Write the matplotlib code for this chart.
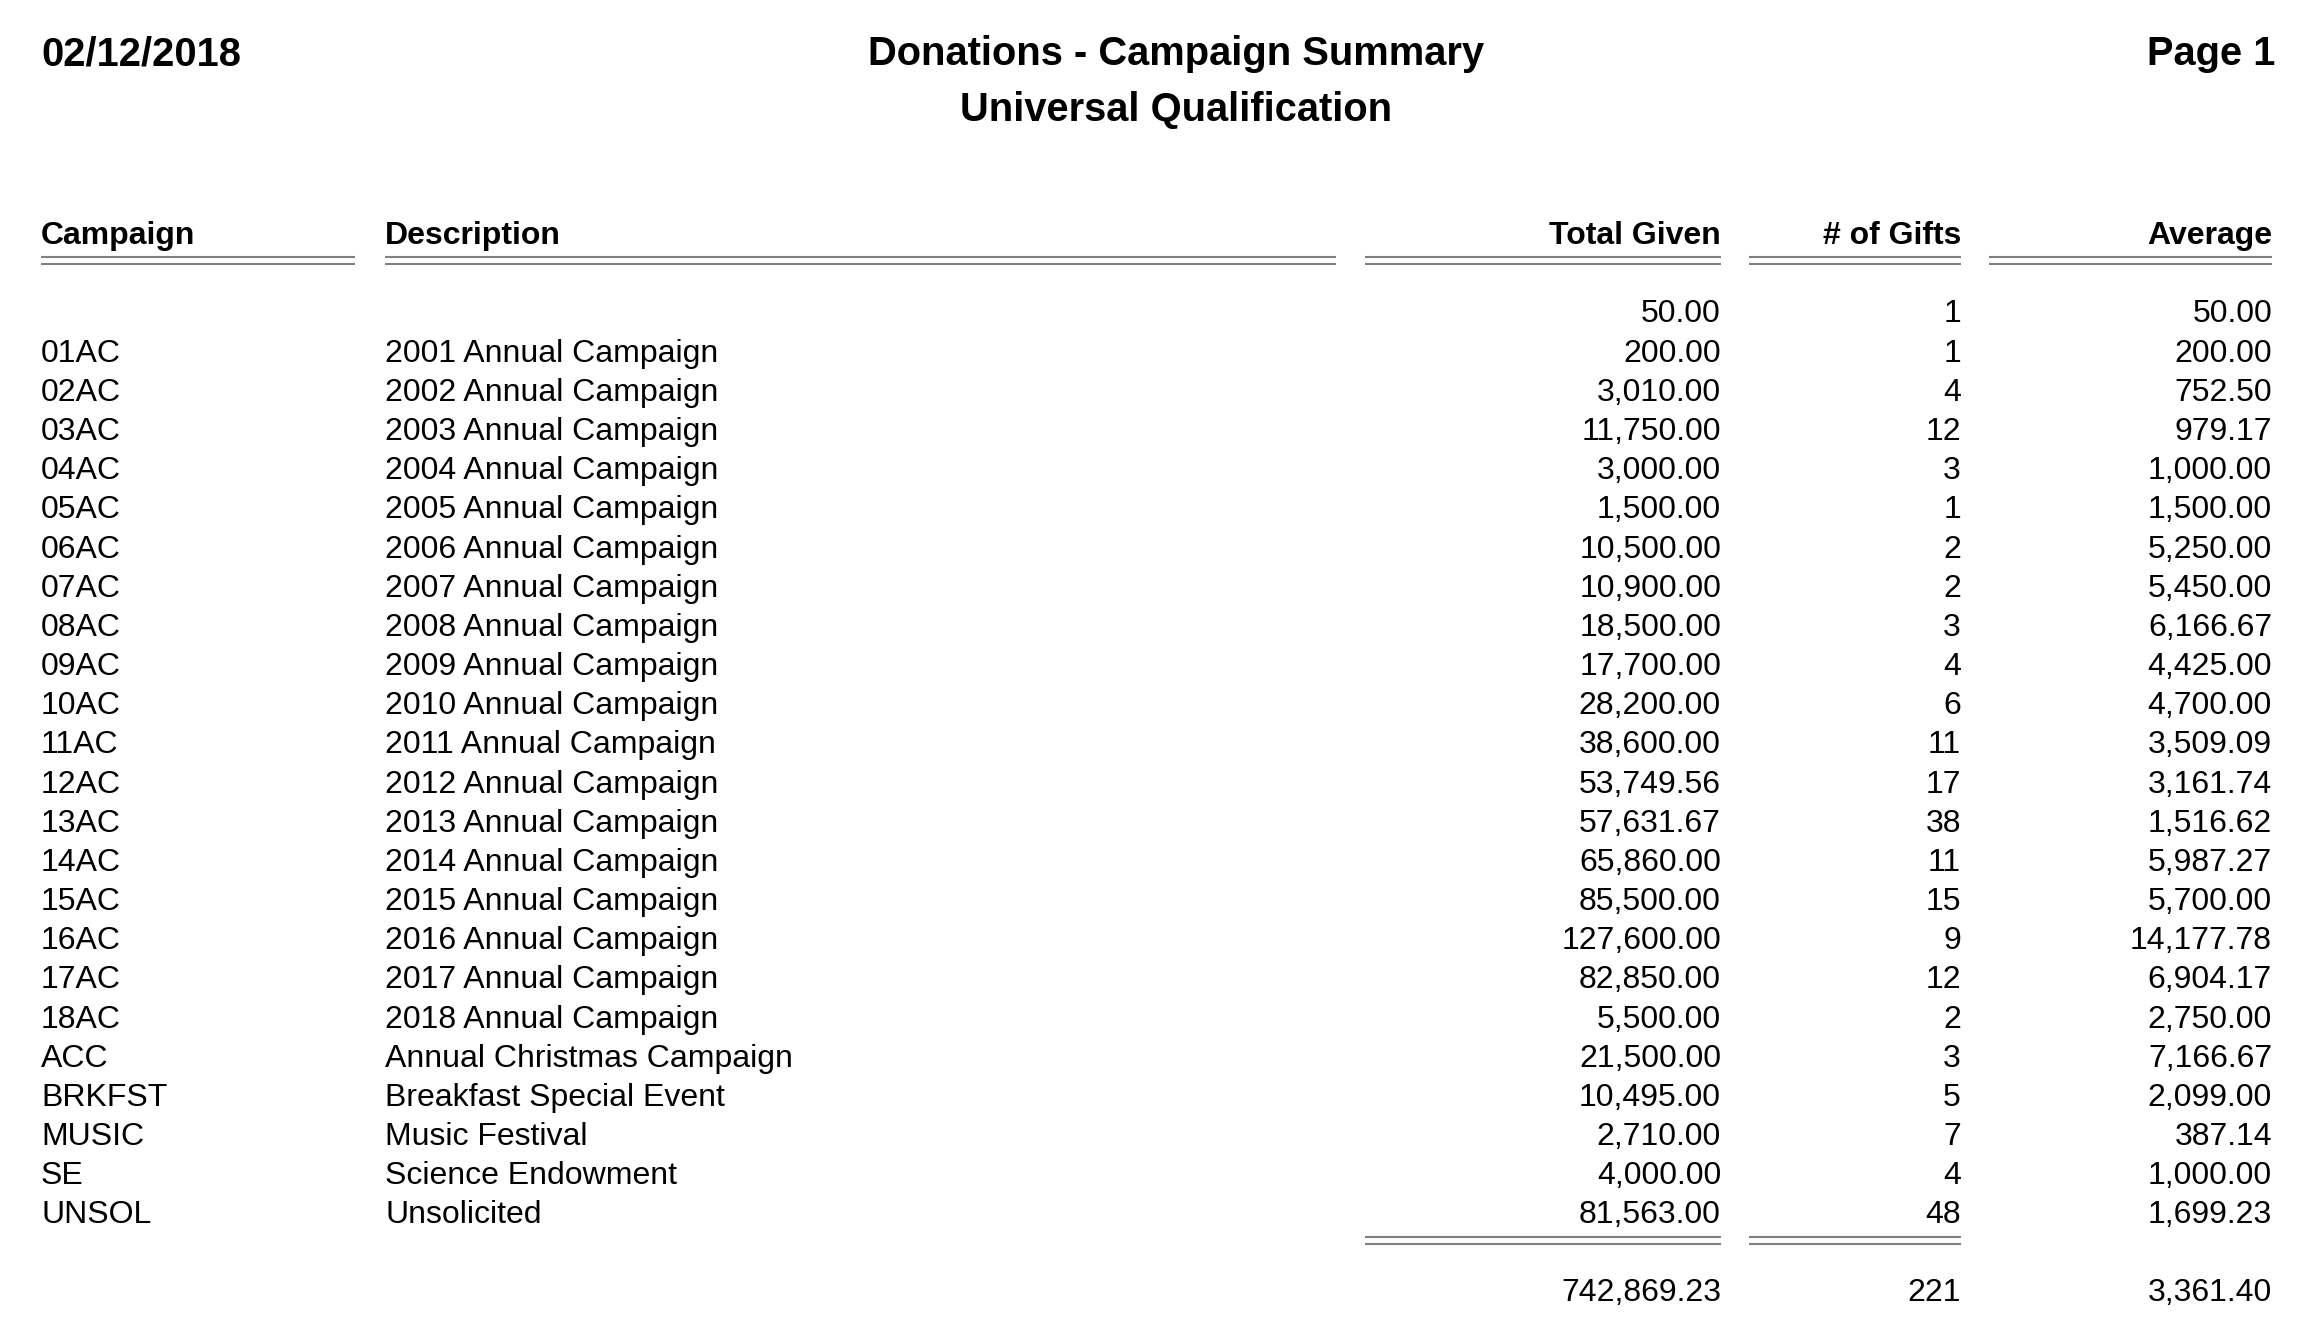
import matplotlib
matplotlib.use('Agg')
import matplotlib.pyplot as plt

plt.rcParams['font.family'] = ['Liberation Sans', 'DejaVu Sans']

# === 数据 ===
campaigns = ['', '01AC', '02AC', '03AC', '04AC', '05AC', '06AC', '07AC', '08AC', '09AC',
             '10AC', '11AC', '12AC', '13AC', '14AC', '15AC', '16AC', '17AC', '18AC',
             'ACC', 'BRKFST', 'MUSIC', 'SE', 'UNSOL']
descriptions = [''] + [f'{y} Annual Campaign' for y in range(2001, 2019)] + [
    'Annual Christmas Campaign', 'Breakfast Special Event', 'Music Festival',
    'Science Endowment', 'Unsolicited']
total_given = [50.00, 200.00, 3010.00, 11750.00, 3000.00, 1500.00, 10500.00, 10900.00,
               18500.00, 17700.00, 28200.00, 38600.00, 53749.56, 57631.67, 65860.00,
               85500.00, 127600.00, 82850.00, 5500.00, 21500.00, 10495.00, 2710.00,
               4000.00, 81563.00]
num_gifts = [1, 1, 4, 12, 3, 1, 2, 2, 3, 4, 6, 11, 17, 38, 11, 15, 9, 12, 2, 3, 5, 7, 4, 48]
averages = [50.00, 200.00, 752.50, 979.17, 1000.00, 1500.00, 5250.00, 5450.00, 6166.67,
            4425.00, 4700.00, 3509.09, 3161.74, 1516.62, 5987.27, 5700.00, 14177.78,
            6904.17, 2750.00, 7166.67, 2099.00, 387.14, 1000.00, 1699.23]
grand_total = 742869.23
grand_gifts = 221
grand_avg = 3361.40

headers = ['Campaign', 'Description', 'Total Given', '# of Gifts', 'Average']

# === 布局（像素坐标） ===
W, H = 2322, 1337
fig = plt.figure(figsize=(W / 100, H / 100), dpi=100)
ax = fig.add_axes([0, 0, 1, 1])
ax.set_xlim(0, W)
ax.set_ylim(H, 0)
ax.axis('off')

big = 28.7
fs = 23
line_color = '#808080'
lw = 1.5

# 页眉
ax.text(41, 65, '02/12/2018', fontsize=big, fontweight='bold', ha='left', va='baseline')
ax.text(1176, 65, 'Donations - Campaign Summary', fontsize=big, fontweight='bold',
        ha='center', va='baseline')
ax.text(1176, 121, 'Universal Qualification', fontsize=big, fontweight='bold',
        ha='center', va='baseline')
ax.text(2275, 65, 'Page 1', fontsize=big, fontweight='bold', ha='right', va='baseline')

# 列定义：(x位置, 对齐, 线段起止)
col_x = [41, 385, 1721, 1961, 2272]
col_ha = ['left', 'left', 'right', 'right', 'right']
col_span = [(41, 355), (385, 1336), (1365, 1721), (1749, 1961), (1989, 2272)]

for x, ha, h in zip(col_x, col_ha, headers):
    ax.text(x, 244, h, fontsize=fs, fontweight='bold', ha=ha, va='baseline')
for x0, x1 in col_span:
    for y in (257, 264):
        ax.plot([x0, x1], [y, y], color=line_color, lw=lw, solid_capstyle='butt')

# 数据行
y0, dy = 322.5, 39.17
for i in range(len(campaigns)):
    y = y0 + i * dy
    cells = [campaigns[i], descriptions[i], f'{total_given[i]:,.2f}',
             f'{num_gifts[i]}', f'{averages[i]:,.2f}']
    for x, ha, s in zip(col_x, col_ha, cells):
        ax.text(x, y, s, fontsize=fs, ha=ha, va='baseline')

# 合计线与合计
for x0, x1 in col_span[2:4]:
    for y in (1237, 1244):
        ax.plot([x0, x1], [y, y], color=line_color, lw=lw, solid_capstyle='butt')

for x, s in zip(col_x[2:], [f'{grand_total:,.2f}', f'{grand_gifts}', f'{grand_avg:,.2f}']):
    ax.text(x, 1301, s, fontsize=fs, ha='right', va='baseline')

fig.savefig('out.png', dpi=100, facecolor='white')
